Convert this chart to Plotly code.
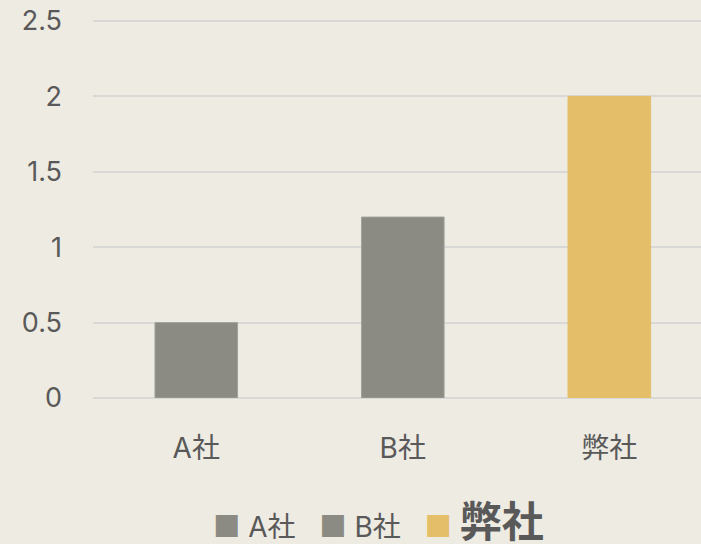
import plotly.graph_objects as go

categories = ["A社", "B社", "弊社"]
values = [0.5, 1.2, 2.0]
colors = ["#8B8B84", "#8B8B84", "#E4BE69"]
outline = ["#A3A39C", "#A3A39C", "#E4BE69"]
y_ticks = [0, 0.5, 1, 1.5, 2, 2.5]
y_tick_labels = ["0", "0.5", "1", "1.5", "2", "2.5"]
highlight = "弊社"

FONT = "Inter, Noto Sans CJK JP, sans-serif"
TEXT = "#595959"

fig = go.Figure()
for cat, val, col, oc in zip(categories, values, colors, outline):
    fig.add_trace(go.Bar(
        x=[cat], y=[val], name=cat, showlegend=False,
        marker=dict(color=col, line=dict(color=oc, width=1)),
        width=0.4,
    ))

# legend row (built from the series names and colours)
parts = []
for cat, col in zip(categories, colors):
    sq = f"<span style='color:{col};font-size:30px'>■</span>"
    label = f"<b><span style='font-size:42px'>{cat}</span></b>" if cat == highlight else cat
    parts.append(f"{sq} {label}")
legend_text = "   ".join(parts)

fig.add_annotation(
    text=legend_text, xref="paper", yref="paper",
    x=0.469, y=-0.326, xanchor="center", yanchor="middle",
    showarrow=False, font=dict(family=FONT, size=28, color=TEXT),
    borderpad=0,
)

fig.update_layout(
    width=701, height=544,
    paper_bgcolor="#EEEBE3", plot_bgcolor="#EEEBE3",
    margin=dict(l=93, r=0, t=18, b=146, autoexpand=False),
    barmode="overlay",
    font=dict(family=FONT, size=27, color=TEXT),
    showlegend=False,
    xaxis=dict(type="category", categoryorder="array", categoryarray=categories,
               range=[-0.5, 2.444], showgrid=False, showline=False, zeroline=False,
               ticks="outside", ticklen=0, ticklabelstandoff=25,
               tickfont=dict(size=28, color=TEXT)),
    yaxis=dict(range=[0, 2.52], tickvals=y_ticks, ticktext=y_tick_labels,
               showgrid=True, gridcolor="#D8D8D6", gridwidth=2,
               zeroline=True, zerolinecolor="#D8D8D6", zerolinewidth=2,
               showline=False, ticks="", ticklabelstandoff=30,
               tickfont=dict(size=27, color=TEXT)),
)

html = fig.to_html(full_html=True, include_plotlyjs=True,
                   config={"displayModeBar": False})
html = html.replace("<body>", "<body style=\"margin:0;padding:0;overflow:hidden;\">", 1)
html = html.replace("<head>", "<head><style>html,body{margin:0;padding:0;}</style>", 1)
with open("out.html", "w", encoding="utf-8") as f:
    f.write(html)
